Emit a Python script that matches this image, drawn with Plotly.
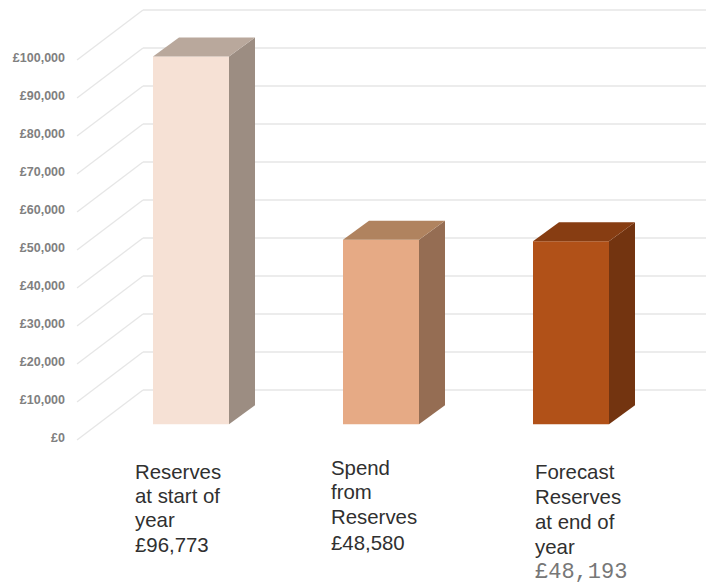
import plotly.graph_objects as go

# ---- data ----
values = [96773, 48580, 48193]
grid_values = [0, 10000, 20000, 30000, 40000, 50000, 60000, 70000, 80000, 90000, 100000]
tick_labels = ["£0", "£10,000", "£20,000", "£30,000", "£40,000", "£50,000",
               "£60,000", "£70,000", "£80,000", "£90,000", "£100,000"]
label_lines = [
    ["Reserves", "at start of", "year", "£96,773"],
    ["Spend", "from", "Reserves", "£48,580"],
    ["Forecast", "Reserves", "at end of", "year", "£48,193"],
]
front_colors = ["#F6E1D5", "#E6AA85", "#B15118"]
side_colors = ["#9C8D82", "#956D53", "#733410"]
top_colors = ["#B9A89C", "#B0835F", "#873D12"]

# ---- page geometry / pseudo-3D projection (pixels of the 706x587 image) ----
W, H = 706, 587
AXIS_LEFT = 68
X0_PX, X_STEP_PX = 191, 190      # first bar centre, bar spacing
Y0_PX, PX_PER_UNIT = 437.5, 0.0038   # where value 0 sits, vertical scale


def xv(px):
    return (px - X0_PX) / X_STEP_PX


def yv(px):
    return (Y0_PX - px) / PX_PER_UNIT


BAR_W = 76 / X_STEP_PX
DEPTH_X = 26 / X_STEP_PX
DEPTH_Y = 19 / PX_PER_UNIT
BAR_BASE = yv(424.3)
GRID_FRONT = yv(440)
GRID_BACK = yv(390)
GRID_X0, GRID_X1 = xv(77), xv(143)
GRID_COLOR = "#E6E6E6"

fig = go.Figure()

# front faces
fig.add_trace(go.Bar(
    x=list(range(len(values))), y=values, base=BAR_BASE, width=BAR_W,
    marker=dict(color=front_colors, line=dict(width=0)), showlegend=False,
))

# side and top faces
for i, v in enumerate(values):
    left, right = i - BAR_W / 2, i + BAR_W / 2
    top = BAR_BASE + v
    fig.add_trace(go.Scatter(
        x=[right, right + DEPTH_X, right + DEPTH_X, right, right],
        y=[BAR_BASE, BAR_BASE + DEPTH_Y, top + DEPTH_Y, top, BAR_BASE],
        mode="lines", fill="toself", fillcolor=side_colors[i],
        line=dict(width=0), showlegend=False, hoverinfo="skip",
    ))
    fig.add_trace(go.Scatter(
        x=[left, left + DEPTH_X, right + DEPTH_X, right, left],
        y=[top, top + DEPTH_Y, top + DEPTH_Y, top, top],
        mode="lines", fill="toself", fillcolor=top_colors[i],
        line=dict(width=0), showlegend=False, hoverinfo="skip",
    ))

# wall grid lines with the oblique floor/side segment
shapes = []
for g in grid_values:
    shapes.append(dict(type="line", layer="below", xref="x", yref="y",
                       x0=GRID_X0, y0=g + GRID_FRONT, x1=GRID_X1, y1=g + GRID_BACK,
                       line=dict(color=GRID_COLOR, width=1.3)))
    shapes.append(dict(type="line", layer="below", xref="x", yref="y",
                       x0=GRID_X1, y0=g + GRID_BACK, x1=xv(W), y1=g + GRID_BACK,
                       line=dict(color=GRID_COLOR, width=1.3)))

# category labels, one annotation per line
label_x = [134, 330, 534]
label_y = [
    [472, 496, 520, 545],
    [468, 492, 517, 543],
    [472, 497, 522, 547, 572],
]
annotations = []
for col, lines in enumerate(label_lines):
    for row, line in enumerate(lines):
        mono = col == 2 and row == 4
        annotations.append(dict(
            x=xv(label_x[col]), y=yv(label_y[col][row]), xref="x", yref="y",
            text=line, showarrow=False, xanchor="left", yanchor="middle", borderpad=0,
            font=dict(family="Liberation Mono" if mono else "Liberation Sans",
                      size=22 if mono else 20.4,
                      color="#777777" if mono else "#303030"),
        ))

fig.update_layout(
    width=W, height=H, margin=dict(l=AXIS_LEFT, r=0, t=0, b=0),
    paper_bgcolor="white", plot_bgcolor="white", showlegend=False,
    shapes=shapes, annotations=annotations,
    xaxis=dict(range=[xv(AXIS_LEFT), xv(W)], visible=False, fixedrange=True),
    yaxis=dict(range=[yv(H), yv(0)], tickmode="array", tickvals=grid_values,
               ticktext=tick_labels, showgrid=False, zeroline=False, showline=False,
               ticks="", ticklabelstandoff=2, fixedrange=True,
               tickfont=dict(family="Liberation Sans", size=12.5, color="#808080",
                             weight="bold")),
)

fig.write_html("out.html", config={"displayModeBar": False},
               post_script="document.body.style.margin='0';document.body.style.overflow='hidden';")
